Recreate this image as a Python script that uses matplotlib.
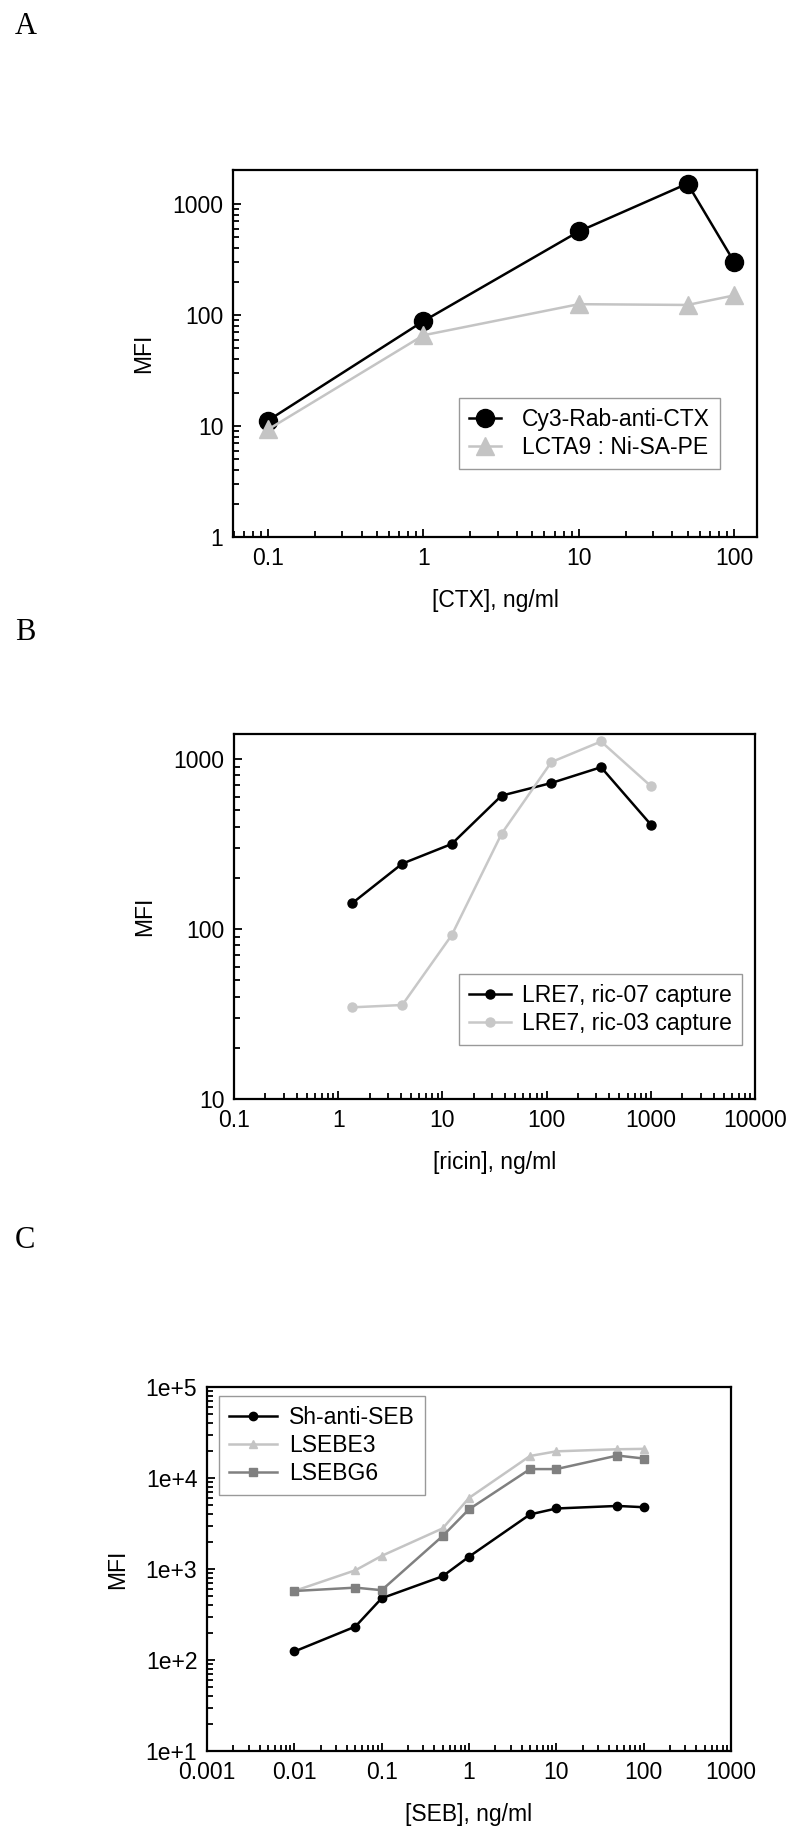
import matplotlib
matplotlib.use('Agg')
import matplotlib.pyplot as plt
import numpy as np
from matplotlib import font_manager
from matplotlib.ticker import LogLocator, FixedLocator, FuncFormatter, NullFormatter

# narrow sans if present, else the regular one
installed = set(f.name for f in font_manager.fontManager.ttflist)
if 'Liberation Sans Narrow' in installed:
    plt.rcParams['font.family'] = ['Liberation Sans Narrow', 'DejaVu Sans']
    FS = 18
else:
    plt.rcParams['font.family'] = ['Liberation Sans', 'DejaVu Sans']
    FS = 16.5

# panel A: CTX
ctx_conc = [0.1, 1, 10, 50, 100]
cy3_rab = [11.2, 88, 565, 1524, 299]
lcta9 = [9.3, 65.6, 125, 123, 150]

# panel B: ricin
ricin_conc = [1.37, 4.12, 12.3, 37, 111, 333, 1000]
ric07 = [142, 242, 316, 608, 721, 893, 411]
ric03 = [34.6, 35.7, 92, 363, 957, 1265, 692]

# panel C: SEB
seb_conc = [0.01, 0.05, 0.1, 0.5, 1, 5, 10, 50, 100]
sh_anti_seb = [124, 233, 477, 833, 1365, 3981, 4624, 4932, 4775]
lsebe3 = [573, 968, 1394, 2797, 6040, 17460, 19630, 20700, 20900]
lsebg6 = [573, 624, 585, 2306, 4531, 12530, 12530, 17650, 16370]

W, H = 800, 1845
fig = plt.figure(figsize=(W / 100, H / 100), dpi=100)


def px_axes(left, right, top, bottom):
    return fig.add_axes([left / W, (H - bottom) / H, (right - left) / W, (bottom - top) / H])


def style(ax, xlim, ylim):
    ax.set_xscale('log')
    ax.set_yscale('log')
    ax.set_xlim(*xlim)
    ax.set_ylim(*ylim)
    for s in ax.spines.values():
        s.set_linewidth(1.6)
    ax.tick_params(which='both', direction='in', top=False, right=False,
                   labelsize=FS, width=1.3)
    ax.tick_params(which='major', length=6, pad=7)
    ax.tick_params(which='minor', length=4)
    ax.xaxis.set_minor_locator(LogLocator(base=10, subs=np.arange(2, 10)))
    ax.yaxis.set_minor_locator(LogLocator(base=10, subs=np.arange(2, 10)))
    ax.xaxis.set_minor_formatter(NullFormatter())
    ax.yaxis.set_minor_formatter(NullFormatter())


def boxed_legend(ax, anchor, hl, htp):
    leg = ax.legend(loc='upper left', bbox_to_anchor=anchor, borderaxespad=0,
                    fontsize=FS, fancybox=False, edgecolor='#808080', handlelength=hl,
                    borderpad=0.45, labelspacing=0.2, handletextpad=htp)
    leg.get_frame().set_linewidth(1.0)
    return leg


plain = FuncFormatter(lambda v, p: ('%g' % v))

# ---- A ----
axA = px_axes(233, 757, 170, 537)
style(axA, (0.0595, 140), (1, 2020))
axA.xaxis.set_major_locator(FixedLocator([0.1, 1, 10, 100]))
axA.yaxis.set_major_locator(FixedLocator([1, 10, 100, 1000]))
axA.xaxis.set_major_formatter(plain)
axA.yaxis.set_major_formatter(plain)
axA.plot(ctx_conc, cy3_rab, '-o', color='black', lw=1.8, ms=13, label='Cy3-Rab-anti-CTX')
axA.plot(ctx_conc, lcta9, '-^', color='#c4c4c4', lw=1.8, ms=13, label='LCTA9 : Ni-SA-PE')
axA.set_xlabel('[CTX], ng/ml', fontsize=FS, labelpad=14)
axA.set_ylabel('MFI', fontsize=FS, labelpad=12)
boxed_legend(axA, (0.431, 0.379), 1.4, 0.9)

# ---- B ----
axB = px_axes(234, 755, 734, 1099)
style(axB, (0.1, 10000), (10, 1400))
axB.xaxis.set_major_locator(FixedLocator([0.1, 1, 10, 100, 1000, 10000]))
axB.yaxis.set_major_locator(FixedLocator([10, 100, 1000]))
axB.xaxis.set_major_formatter(plain)
axB.yaxis.set_major_formatter(plain)
axB.plot(ricin_conc, ric07, '-o', color='black', lw=1.8, ms=6.5, label='LRE7, ric-07 capture')
axB.plot(ricin_conc, ric03, '-o', color='#c8c8c8', lw=1.8, ms=6.5, label='LRE7, ric-03 capture')
axB.set_xlabel('[ricin], ng/ml', fontsize=FS, labelpad=14)
axB.set_ylabel('MFI', fontsize=FS, labelpad=12)
boxed_legend(axB, (0.432, 0.342), 1.8, 0.5)

# ---- C ----
axC = px_axes(207, 731, 1387, 1751)
style(axC, (0.001, 1000), (10, 1e5))
axC.xaxis.set_major_locator(FixedLocator([0.001, 0.01, 0.1, 1, 10, 100, 1000]))
axC.yaxis.set_major_locator(FixedLocator([10, 100, 1000, 1e4, 1e5]))
axC.xaxis.set_major_formatter(plain)
axC.yaxis.set_major_formatter(FuncFormatter(lambda v, p: '1e+%d' % round(np.log10(v))))
axC.plot(seb_conc, sh_anti_seb, '-o', color='black', lw=1.8, ms=6, label='Sh-anti-SEB')
axC.plot(seb_conc, lsebe3, '-^', color='#c4c4c4', lw=1.8, ms=6, label='LSEBE3')
axC.plot(seb_conc, lsebg6, '-s', color='#808080', lw=1.8, ms=6, label='LSEBG6')
axC.set_xlabel('[SEB], ng/ml', fontsize=FS, labelpad=14)
axC.set_ylabel('MFI', fontsize=FS, labelpad=12)
boxed_legend(axC, (0.023, 0.975), 2.1, 0.5)

# panel letters
for lab, yy in [('A', 27), ('B', 633), ('C', 1241)]:
    fig.text(15 / W, 1 - yy / H, lab, fontsize=22, family='Liberation Serif', va='center', ha='left')

fig.savefig('out.png', dpi=100)
